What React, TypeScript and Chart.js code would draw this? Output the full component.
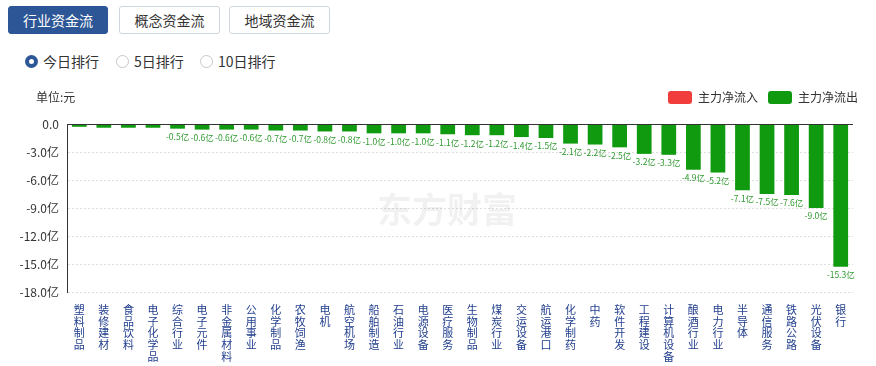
import React, { useEffect, useRef } from 'react';
import { Chart, registerables } from 'chart.js';

Chart.register(...registerables);

const categories = ['塑料制品', '装修建材', '食品饮料', '电子化学品', '综合行业', '电子元件', '非金属材料', '公用事业', '化学制品', '农牧饲渔', '电机', '航空机场', '船舶制造', '石油行业', '电源设备', '医疗服务', '生物制品', '煤炭行业', '交运设备', '航运港口', '化学制药', '中药', '软件开发', '工程建设', '计算机设备', '酿酒行业', '电力行业', '半导体', '通信服务', '铁路公路', '光伏设备', '银行'];
const netFlow = [-0.3, -0.4, -0.4, -0.4, -0.5, -0.6, -0.6, -0.6, -0.7, -0.7, -0.8, -0.8, -1.0, -1.0, -1.0, -1.1, -1.2, -1.2, -1.4, -1.5, -2.1, -2.2, -2.5, -3.2, -3.3, -4.9, -5.2, -7.1, -7.5, -7.6, -9.0, -15.3];
const yTicks = [0, -3, -6, -9, -12, -15, -18];
const legendLabels = ['主力净流入', '主力净流出'];
const tabs = ['行业资金流', '概念资金流', '地域资金流'];
const ranks = ['今日排行', '5日排行', '10日排行'];
const unitText = '单位:元';
const watermark = '东方财富';

const RED = '#f23d3d';
const GREEN = '#0f9a0f';
const FONT = '"Noto Sans CJK SC", "Noto Sans", sans-serif';

const decorPlugin = {
  id: 'decor',
  beforeDatasetsDraw(chart: any) {
    const { ctx, chartArea } = chart;
    ctx.save();
    ctx.fillStyle = 'rgba(0,0,0,0.055)';
    ctx.font = `bold 35px ${FONT}`;
    ctx.textBaseline = 'middle';
    ctx.textAlign = 'left';
    ctx.fillText(watermark, chartArea.left + 310, chartArea.top + 86);
    ctx.restore();
  },
  afterDraw(chart: any) {
    const { ctx, chartArea, scales } = chart;
    ctx.save();
    // zero line
    const y0 = Math.round(scales.y.getPixelForValue(0)) + 0.5;
    ctx.strokeStyle = '#333';
    ctx.lineWidth = 1;
    ctx.beginPath();
    ctx.moveTo(chartArea.left, y0);
    ctx.lineTo(chartArea.right, y0);
    ctx.stroke();

    // data labels
    const meta = chart.getDatasetMeta(0);
    ctx.font = `8.5px ${FONT}`;
    ctx.fillStyle = '#2f9a2f';
    ctx.textAlign = 'center';
    ctx.textBaseline = 'top';
    meta.data.forEach((bar: any, i: number) => {
      const v = netFlow[i];
      if (Math.abs(v) < 0.5) return;
      ctx.fillText(v.toFixed(1) + '亿', bar.x, bar.y + 4);
    });

    // unit text
    ctx.font = `12px ${FONT}`;
    ctx.fillStyle = '#333';
    ctx.textAlign = 'left';
    ctx.textBaseline = 'middle';
    ctx.fillText(unitText, 36, 17);

    // legend
    const colors = [RED, GREEN];
    const widths = legendLabels.map((l) => ctx.measureText(l).width);
    const total = widths.reduce((a, w) => a + 24 + 6 + w, 0) + 10 * (legendLabels.length - 1);
    let x = chart.width - 18 - total;
    legendLabels.forEach((l, i) => {
      ctx.fillStyle = colors[i];
      ctx.beginPath();
      (ctx as any).roundRect(x, 11, 24, 13, 3);
      ctx.fill();
      ctx.fillStyle = '#333';
      ctx.fillText(l, x + 30, 17.5);
      x += 24 + 6 + widths[i] + 10;
    });
    ctx.restore();
  },
};

export default function App() {
  const ref = useRef<HTMLCanvasElement>(null);
  useEffect(() => {
    const canvas = ref.current!;
    const chart = new Chart(canvas, {
      type: 'bar',
      data: {
        labels: categories.map((c) => c.split('')),
        datasets: [
          {
            label: legendLabels[1],
            data: netFlow,
            backgroundColor: netFlow.map((v) => (v >= 0 ? RED : GREEN)),
            barPercentage: 0.6,
            categoryPercentage: 1,
          },
        ],
      },
      options: {
        animation: false,
        responsive: false,
        maintainAspectRatio: false,
        layout: { padding: { top: 44, right: 23, bottom: 0, left: 0 } },
        plugins: { legend: { display: false }, tooltip: { enabled: false } },
        scales: {
          x: {
            grid: { display: false },
            border: { display: false },
            ticks: {
              autoSkip: false,
              maxRotation: 0,
              minRotation: 0,
              padding: 4,
              color: '#23408e',
              font: { family: FONT, size: 11, lineHeight: 1.065 },
            },
            afterFit: (s: any) => {
              s.height = 74;
            },
          },
          y: {
            min: -18,
            max: 0,
            grid: { color: '#dedede', drawTicks: false },
            border: { display: true, color: '#333', dash: [2, 2] },
            ticks: {
              padding: 8,
              color: '#333',
              font: { family: FONT, size: 12 },
              callback: (v: any) => (Number(v) === 0 ? '0.0' : Number(v).toFixed(1) + '亿'),
            },
            afterBuildTicks: (s: any) => {
              s.ticks = yTicks.map((v) => ({ value: v }));
            },
            afterFit: (s: any) => {
              s.width = 67;
            },
          },
        },
      },
      plugins: [decorPlugin],
    });
    return () => chart.destroy();
  }, []);

  const radioLefts = [25, 116, 200];
  return (
    <div style={{ position: 'absolute', left: 0, top: 0, width: 876, height: 366, background: '#fff', fontFamily: FONT, overflow: 'hidden' }}>
      {tabs.map((t, i) => (
        <div
          key={t}
          style={{
            position: 'absolute',
            left: 8 + Math.round(i * 110.5),
            top: 6,
            width: i === 0 ? 100 : 101,
            height: 28,
            boxSizing: 'border-box',
            border: i === 0 ? '1px solid #2d5696' : '1px solid #cfd6e0',
            borderRadius: 3,
            background: i === 0 ? '#2d5696' : '#fff',
            color: i === 0 ? '#fff' : '#333',
            fontSize: 14,
            lineHeight: '26px',
            textAlign: 'center',
          }}
        >
          {t}
        </div>
      ))}
      {ranks.map((r, i) => (
        <div key={r} style={{ position: 'absolute', left: radioLefts[i], top: 51, height: 20, display: 'flex', alignItems: 'center' }}>
          <span
            style={{
              display: 'inline-block',
              width: 13,
              height: 13,
              boxSizing: 'border-box',
              borderRadius: '50%',
              border: i === 0 ? '4px solid #2d5696' : '1px solid #c8c8c8',
              background: '#fff',
            }}
          />
          <span style={{ marginLeft: 5, fontSize: 14, color: '#333', lineHeight: '20px' }}>{r}</span>
        </div>
      ))}
      <canvas ref={ref} width={876} height={286} style={{ position: 'absolute', left: 0, top: 80, width: 876, height: 286 }} />
    </div>
  );
}
